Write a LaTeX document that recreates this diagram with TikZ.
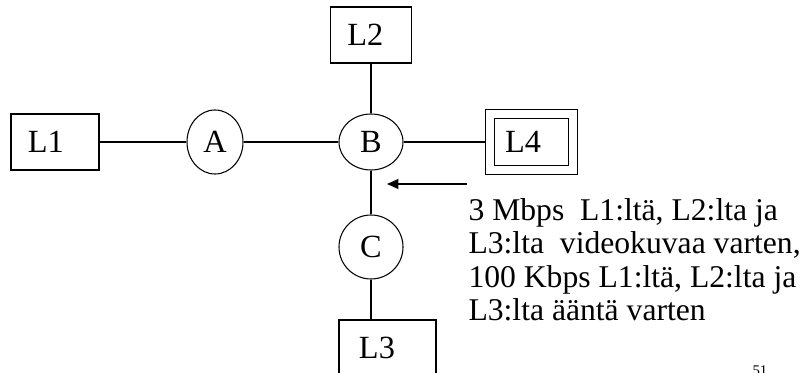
\documentclass[tikz,border=0pt]{standalone}
\usepackage{fontspec}
\setmainfont{Liberation Serif}
\usetikzlibrary{arrows.meta, shapes.geometric}
\tikzset{
  lbox/.style={draw, minimum height=1.4cm, inner xsep=0.42cm, align=left,
    font=\fontsize{23}{27}\selectfont},
  router/.style={draw, ellipse, inner sep=0pt, font=\fontsize{23}{27}\selectfont},
  link/.style={line width=0.75pt}
}
\begin{document}
\begin{tikzpicture}[x=0.025cm, y=-0.025cm, line width=0.75pt]
  \useasboundingbox (0, 0) rectangle (808, 373);
  % nodes
  \node[lbox, text width=1.36cm] (L1) at (55, 142) {L1};
  \node[router, minimum width=1.4cm, minimum height=1.6cm] (A) at (215, 142) {A};
  \node[router, minimum width=1.6cm, minimum height=1.4cm] (B) at (371, 142) {B};
  \node[lbox, text width=1.185cm] (L2) at (371, 35) {L2};
  \node[lbox, text width=1.325cm, inner xsep=0.375cm, double, double distance=5.2pt,
    outer sep=2.85pt] (L4) at (531.5, 142) {L4};
  \node[router, minimum width=1.6cm, minimum height=1.6cm] (C) at (371, 247) {C};
  \node[lbox, text width=1.425cm, inner xsep=0.5cm] (L3) at (387.5, 348) {L3};
  \node[anchor=north west, inner sep=0pt, align=left,
    font=\fontsize{22.5}{23.8}\selectfont] (info) at (468, 198)
    {3 Mbps\ \ L1:ltä, L2:lta ja\\
     L3:lta\ \ videokuvaa varten,\\
     100 Kbps L1:ltä, L2:lta ja\\
     L3:lta ääntä varten};
  \node[anchor=base west, inner sep=0pt, font=\fontsize{10.5}{12}\selectfont] (page) at (752, 375) {51};
  % connectors
  \draw[link] (L1) -- (A) -- (B) -- (L4);
  \draw[link] (L2) -- (B) -- (C);
  \draw[link] (C) -- (C |- L3.north);
  \coordinate (tail) at (467, 184);
  \coordinate (tip) at (387, 184);
  \draw[link, -{Triangle[length=8pt, width=7pt]}] (tail) -- (tip);
\end{tikzpicture}
\end{document}
